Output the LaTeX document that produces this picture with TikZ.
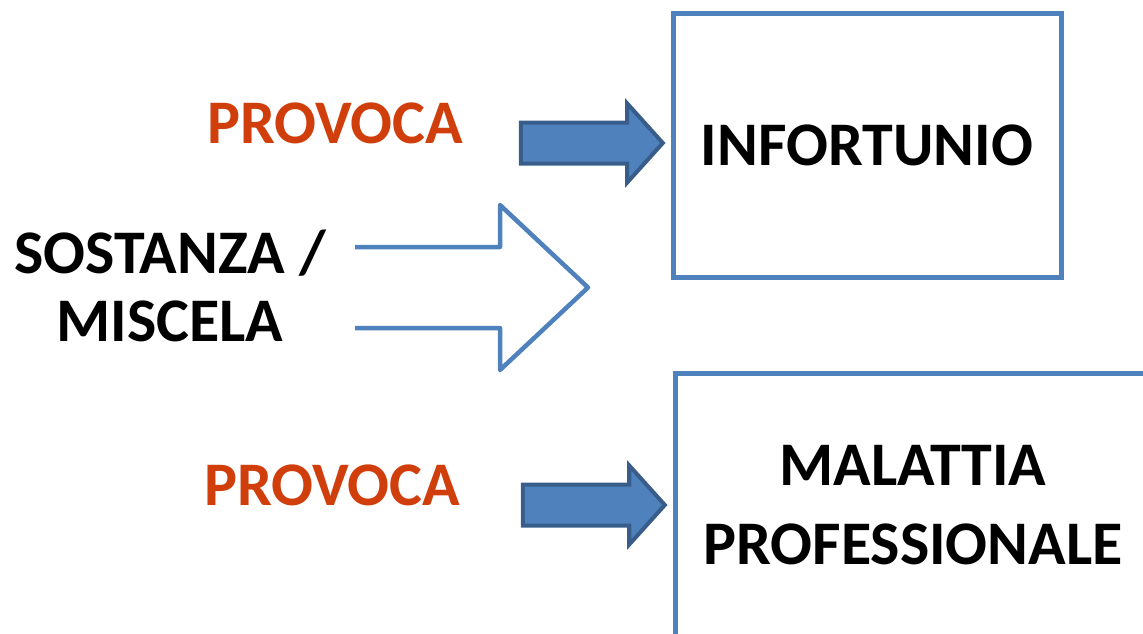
\documentclass[tikz,border=0pt]{standalone}
\usepackage{fontspec}
\setmainfont{Carlito}
\usetikzlibrary{shapes.arrows}

\definecolor{boxblue}{RGB}{79,129,189}
\definecolor{arrowedge}{RGB}{56,93,138}
\definecolor{provred}{RGB}{208,62,12}

\tikzset{
  bigtext/.style={font=\fontsize{62}{68}\selectfont\bfseries},
  casebox/.style={draw=boxblue,line width=5pt,bigtext,align=center,inner sep=0pt},
  fatarrow/.style={single arrow,draw=arrowedge,fill=boxblue,line width=4pt,
    inner xsep=0pt,inner ysep=18.5pt,minimum height=142pt,
    single arrow head extend=19pt,single arrow tip angle=96,anchor=tip},
  openarrow/.style={draw=boxblue,line width=4.5pt,line join=round}
}

\begin{document}
\begin{tikzpicture}[x=1pt,y=-1pt]
  \useasboundingbox (0,0) rectangle (1143,634);
  \clip (0,0) rectangle (1143,634);
  % boxes on the right
  \node[casebox,minimum width=388pt,minimum height=264pt] at (867,145.5) (infort) {INFORTUNIO};
  \node[casebox,minimum width=476pt,minimum height=265pt] at (913,505.5) (malatt) {MALATTIA\\[11pt]PROFESSIONALE};
  % labels
  \node[bigtext,text=provred,anchor=base] at (335,143) (prov1) {PROVOCA};
  \node[bigtext,text=provred,anchor=base] at (332,505) (prov2) {PROVOCA};
  \node[bigtext,align=center,anchor=north] at (170,226) (sost) {SOSTANZA /\\MISCELA};
  % arrows
  \node[fatarrow] at ([xshift=-5pt]infort.west |- prov1.base) (arr1) {};
  \node[fatarrow] at ([xshift=-5pt]malatt.west |- prov2.base) (arr2) {};
  \draw[openarrow] (355,247) -- (500,247) -- (500,205) -- (588,287.5)
    -- (500,370) -- (500,328) -- (355,328);
\end{tikzpicture}
\end{document}
